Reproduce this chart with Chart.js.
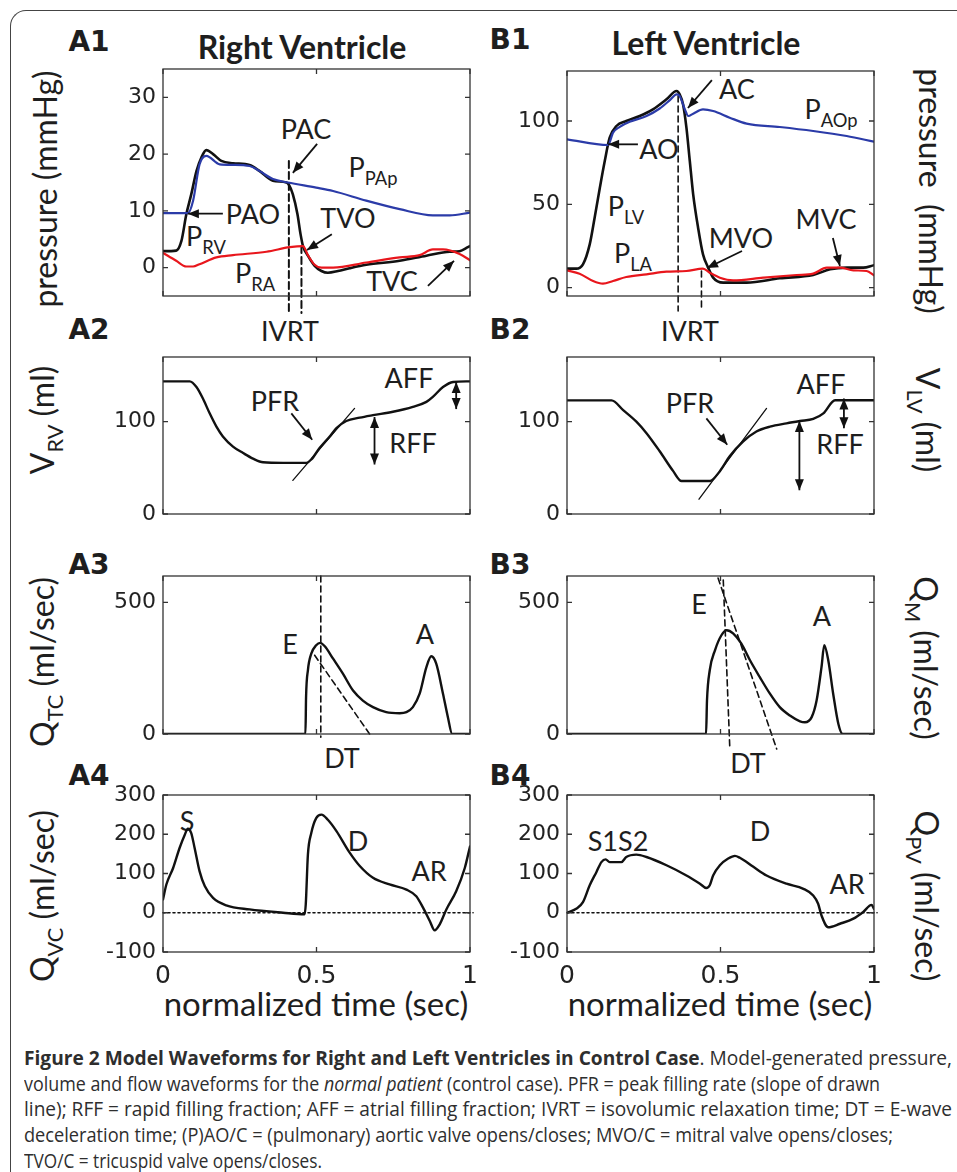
<!DOCTYPE html>
<html lang="en">
<head>
<meta charset="UTF-8">
<title>Figure 2 Model Waveforms</title>
<style>
  body { margin: 0; background: #fff; }
  #page { position: relative; width: 957px; height: 1172px; overflow: hidden; font-family: Lato, "Open Sans", sans-serif; color: #1e1e1e; }
  #frame { position: absolute; left: 10px; top: 10px; width: 1000px; height: 1250px; border-left: 1.5px solid #444; border-top: 1.5px solid #444; border-top-left-radius: 16px; }
  canvas { position: absolute; }
  .t { position: absolute; transform: translate(-50%, -50%); white-space: nowrap; line-height: 1; }
  .lbl { font-size: 27px; }
  .pn { font-family: "DejaVu Sans", sans-serif; font-weight: bold; font-size: 28px; }
  .ttl { font-weight: bold; font-size: 32px; }
  .ax { font-size: 32px; }
  .xl { font-size: 33px; }
  .sub { font-size: 0.68em; position: relative; top: 0.42em; }
  .rotL { transform: translate(-50%, -50%) rotate(-90deg); }
  .rotR { transform: translate(-50%, -50%) rotate(90deg); }
  .cap { position: absolute; left: 24px; height: 24px; line-height: 24px; font-family: "Open Sans", sans-serif; font-size: 19.5px; white-space: nowrap; transform-origin: 0 50%; color: #2e2e2e; }
</style>
</head>
<body>
<div id="page">
  <div id="frame"></div>

  <!-- panel letters and titles -->
  <div class="t pn" style="left:89px;top:42px">A1</div>
  <div class="t pn" style="left:510px;top:40px">B1</div>
  <div class="t pn" style="left:89px;top:330px">A2</div>
  <div class="t pn" style="left:510px;top:330px">B2</div>
  <div class="t pn" style="left:89px;top:565px">A3</div>
  <div class="t pn" style="left:510px;top:565px">B3</div>
  <div class="t pn" style="left:89px;top:776px">A4</div>
  <div class="t pn" style="left:510px;top:776px">B4</div>
  <div class="t ttl" style="left:302px;top:47px">Right Ventricle</div>
  <div class="t ttl" style="left:706px;top:43px">Left Ventricle</div>

  <!-- axis titles -->
  <div class="t ax rotL" style="left:45px;top:189px">pressure (mmHg)</div>
  <div class="t ax rotL" style="left:42px;top:420px">V<span class="sub">RV</span> (ml)</div>
  <div class="t ax rotL" style="left:42px;top:662px">Q<span class="sub">TC</span> (ml/sec)</div>
  <div class="t ax rotL" style="left:42px;top:896px">Q<span class="sub">VC</span> (ml/sec)</div>
  <div class="t ax rotR" style="left:931px;top:191px">pressure &nbsp;(mmHg)</div>
  <div class="t ax rotR" style="left:928px;top:420px">V<span class="sub">LV</span> (ml)</div>
  <div class="t ax rotR" style="left:926px;top:658px">Q<span class="sub">M</span> (ml/sec)</div>
  <div class="t ax rotR" style="left:927px;top:896px">Q<span class="sub">PV</span> (ml/sec)</div>
  <div class="t xl" style="left:316px;top:1003px">normalized time (sec)</div>
  <div class="t xl" style="left:720px;top:1003px">normalized time (sec)</div>

  <!-- annotations A1 / B1 -->
  <div class="t lbl" style="left:306px;top:128px">PAC</div>
  <div class="t lbl" style="left:373px;top:166px">P<span class="sub">PAp</span></div>
  <div class="t lbl" style="left:253px;top:213px">PAO</div>
  <div class="t lbl" style="left:206px;top:235px">P<span class="sub">RV</span></div>
  <div class="t lbl" style="left:348px;top:217px">TVO</div>
  <div class="t lbl" style="left:255px;top:272px">P<span class="sub">RA</span></div>
  <div class="t lbl" style="left:392px;top:280px">TVC</div>
  <div class="t lbl" style="left:290px;top:330px">IVRT</div>
  <div class="t lbl" style="left:737px;top:88px">AC</div>
  <div class="t lbl" style="left:831px;top:108px">P<span class="sub">AOp</span></div>
  <div class="t lbl" style="left:659px;top:148px">AO</div>
  <div class="t lbl" style="left:626px;top:205px">P<span class="sub">LV</span></div>
  <div class="t lbl" style="left:633px;top:252px">P<span class="sub">LA</span></div>
  <div class="t lbl" style="left:741px;top:237px">MVO</div>
  <div class="t lbl" style="left:826px;top:218px">MVC</div>
  <div class="t lbl" style="left:690px;top:330px">IVRT</div>
  <!-- A2 / B2 -->
  <div class="t lbl" style="left:275px;top:400px">PFR</div>
  <div class="t lbl" style="left:409px;top:377px">AFF</div>
  <div class="t lbl" style="left:413px;top:442px">RFF</div>
  <div class="t lbl" style="left:690px;top:402px">PFR</div>
  <div class="t lbl" style="left:821px;top:383px">AFF</div>
  <div class="t lbl" style="left:840px;top:443px">RFF</div>
  <!-- A3 / B3 -->
  <div class="t lbl" style="left:290px;top:643px">E</div>
  <div class="t lbl" style="left:425px;top:633px">A</div>
  <div class="t lbl" style="left:342px;top:757px">DT</div>
  <div class="t lbl" style="left:699px;top:603px">E</div>
  <div class="t lbl" style="left:822px;top:615px">A</div>
  <div class="t lbl" style="left:748px;top:762px">DT</div>
  <!-- A4 / B4 -->
  <div class="t lbl" style="left:187px;top:820px">S</div>
  <div class="t lbl" style="left:358px;top:840px">D</div>
  <div class="t lbl" style="left:429px;top:870px">AR</div>
  <div class="t lbl" style="left:618px;top:840px">S1S2</div>
  <div class="t lbl" style="left:760px;top:830px">D</div>
  <div class="t lbl" style="left:847px;top:883px">AR</div>

  <!-- caption -->
  <div class="cap" data-w="928" style="top:1046px"><b>Figure 2 Model Waveforms for Right and Left Ventricles in Control Case</b>. Model-generated pressure,</div>
  <div class="cap" data-w="856" style="top:1072px">volume and flow waveforms for the <i>normal patient</i> (control case). PFR = peak filling rate (slope of drawn</div>
  <div class="cap" data-w="928" style="top:1097px">line); RFF = rapid filling fraction; AFF = atrial filling fraction; IVRT = isovolumic relaxation time; DT = E-wave</div>
  <div class="cap" data-w="869" style="top:1123px">deceleration time; (P)AO/C = (pulmonary) aortic valve opens/closes; MVO/C = mitral valve opens/closes;</div>
  <div class="cap" data-w="298" style="top:1149px">TVO/C = tricuspid valve opens/closes.</div>
</div>

<script src="https://cdn.jsdelivr.net/npm/chart.js"></script>
<script>
// ---- data (normalized time 0..1) ----
var X_TICKS = [0, 0.5, 1];

// A1 right ventricle pressures (mmHg)
var A1_TICKS = [0, 10, 20, 30];
var ppapX = [0, 0.081, 0.098, 0.119, 0.141, 0.185, 0.228, 0.282, 0.315, 0.358, 0.407, 0.499, 0.554, 0.662, 0.771, 0.879, 0.934, 1.0];
var ppapY = [9.6, 9.6, 11.8, 18.2, 19.7, 18.2, 18.1, 17.9, 17.0, 15.6, 15.0, 14.1, 13.5, 11.8, 10.3, 9.2, 9.2, 9.7];
var prvX = [0, 0.043, 0.060, 0.076, 0.092, 0.109, 0.125, 0.141, 0.163, 0.190, 0.228, 0.282, 0.315, 0.358, 0.402, 0.410, 0.423, 0.438, 0.448, 0.456, 0.472, 0.494, 0.516, 0.537, 0.570, 0.608, 0.662, 0.771, 0.858, 0.934, 0.966, 0.993, 1.0];
var prvY = [2.9, 3.0, 4.7, 9.4, 12.9, 17.0, 19.4, 20.7, 20.0, 18.8, 18.4, 18.1, 17.0, 15.3, 15.0, 14.6, 12.9, 9.4, 5.9, 3.8, 2.1, 0.3, -0.6, -0.9, -0.6, -0.1, 0.5, 1.2, 2.1, 2.8, 2.9, 3.6, 3.8];
var praX = [0, 0.043, 0.076, 0.098, 0.119, 0.174, 0.228, 0.337, 0.413, 0.456, 0.472, 0.494, 0.516, 0.554, 0.662, 0.771, 0.836, 0.879, 0.912, 0.966, 1.0];
var praY = [2.6, 1.2, 0.2, 0.2, 0.6, 1.8, 2.2, 2.8, 3.6, 3.8, 2.2, 0.5, 0.0, 0.0, 0.9, 1.8, 2.2, 3.2, 3.2, 2.4, 1.3];

// B1 left ventricle pressures (mmHg)
var B1_TICKS = [0, 50, 100];
var paopX = [0, 0.134, 0.150, 0.172, 0.204, 0.259, 0.302, 0.335, 0.357, 0.367, 0.384, 0.395, 0.411, 0.443, 0.476, 0.530, 0.585, 0.693, 0.802, 0.911, 1.0];
var paopY = [89, 85.6, 93, 96.5, 99.5, 103, 107.5, 112.5, 116, 115, 107, 103, 104.4, 107, 106, 102, 98.4, 96.4, 94, 91, 87.6];
var plvX = [0, 0.030, 0.052, 0.074, 0.090, 0.107, 0.123, 0.139, 0.161, 0.193, 0.237, 0.280, 0.324, 0.357, 0.367, 0.378, 0.389, 0.400, 0.411, 0.427, 0.443, 0.460, 0.476, 0.509, 0.585, 0.693, 0.802, 0.857, 0.911, 0.965, 1.0];
var plvY = [11.4, 11.4, 14, 26, 42, 60, 76, 90, 97, 100, 103, 107, 113, 118, 116, 110, 96, 76, 56, 36, 20, 12, 6, 3, 3, 5.6, 7.6, 11, 12, 12, 13.5];
var plaX = [0, 0.041, 0.085, 0.117, 0.150, 0.193, 0.259, 0.324, 0.389, 0.443, 0.465, 0.498, 0.541, 0.639, 0.748, 0.802, 0.846, 0.889, 0.933, 0.976, 1.0];
var plaY = [10.4, 8.4, 4, 2.4, 4, 6.4, 8, 9.6, 10, 11.4, 9, 6, 4.4, 6, 7.6, 8.4, 12, 12, 10.4, 10, 7.4];

// A2 / B2 ventricular volumes (ml)
var V_TICKS = [0, 100];
var vrvX = [0, 0.087, 0.109, 0.130, 0.152, 0.174, 0.195, 0.228, 0.261, 0.293, 0.326, 0.391, 0.467, 0.483, 0.510, 0.543, 0.565, 0.597, 0.641, 0.684, 0.749, 0.814, 0.858, 0.879, 0.912, 0.945, 0.988, 1.0];
var vrvY = [143.6, 143.6, 137.5, 125, 109, 94.6, 84, 73, 66, 60, 56, 55.4, 55.4, 59, 71.4, 84, 93, 100.7, 104.3, 107, 110.7, 116, 121.4, 126.8, 137.5, 143, 143.6, 143.6];
var vlvX = [0, 0.145, 0.183, 0.226, 0.259, 0.302, 0.346, 0.373, 0.465, 0.498, 0.530, 0.574, 0.617, 0.661, 0.715, 0.759, 0.802, 0.835, 0.873, 1.0];
var vlvY = [123, 123, 112.5, 100, 87.5, 67.9, 46.4, 35.7, 35.7, 46.4, 62.5, 78.6, 89.3, 94.6, 98.2, 100.7, 102.9, 108.9, 123.2, 123.2];

// A3 / B3 valve flows (ml/sec)
var Q_TICKS = [0, 500];
var qtcX = [0, 0.464, 0.466, 0.472, 0.483, 0.499, 0.512, 0.527, 0.554, 0.586, 0.619, 0.651, 0.684, 0.727, 0.771, 0.793, 0.814, 0.836, 0.858, 0.874, 0.890, 0.912, 0.928, 0.942, 1.0];
var qtcY = [0, 0, 140, 242, 305, 337, 346, 333, 286, 229, 165, 127, 102, 83, 79, 83, 102, 153, 254, 295, 267, 153, 64, 0, 0];
var qmX = [0, 0.453, 0.456, 0.465, 0.482, 0.503, 0.520, 0.541, 0.568, 0.596, 0.628, 0.661, 0.693, 0.726, 0.759, 0.775, 0.797, 0.813, 0.829, 0.838, 0.851, 0.867, 0.884, 0.898, 1.0];
var qmY = [0, 0, 127, 242, 318, 375, 394, 382, 343, 280, 216, 153, 102, 70, 48, 44.5, 64, 127, 254, 337, 280, 153, 38, 0, 0];

// A4 / B4 venous flows (ml/sec)
var VEN_TICKS = [-100, 0, 100, 200, 300];
var qvcX = [0, 0.011, 0.033, 0.054, 0.071, 0.081, 0.092, 0.103, 0.119, 0.136, 0.163, 0.206, 0.282, 0.391, 0.461, 0.465, 0.472, 0.483, 0.499, 0.516, 0.537, 0.565, 0.608, 0.641, 0.684, 0.738, 0.793, 0.825, 0.847, 0.869, 0.885, 0.901, 0.923, 0.955, 0.983, 1.0];
var qvcY = [34, 72, 114, 165, 199, 214, 203, 165, 106, 68, 38, 19, 8.5, 0, -4, 21, 148, 203, 241, 250, 237, 208, 153, 119, 89, 72, 59, 42, 13, -21, -45, -30, 8.5, 55, 114, 169];
var qpvX = [0, 0.030, 0.052, 0.074, 0.096, 0.112, 0.126, 0.139, 0.177, 0.193, 0.226, 0.259, 0.324, 0.389, 0.433, 0.454, 0.465, 0.476, 0.498, 0.525, 0.547, 0.563, 0.607, 0.650, 0.715, 0.770, 0.802, 0.818, 0.829, 0.851, 0.889, 0.933, 0.965, 0.992, 1.0];
var qpvY = [0, 10, 27, 70, 104, 129, 136, 129, 129, 142, 148, 142, 121, 95, 74, 63, 70, 95, 121, 138, 145, 140, 117, 95, 74, 61, 44, 23, -7, -37, -28, -15, 2, 20, 10];

// ---- drawing ----
var BLACK = '#111', BLUE = '#2b3ba8', RED = '#e8161c';
var TICK_FONT = { family: 'DejaVu Sans, sans-serif', size: 22 };
var XTICK_FONT = { family: 'DejaVu Sans, sans-serif', size: 25 };

function pts(xs, ys) {
    return xs.map(function(v, i) { return { x: v, y: ys[i] }; });
}
function curve(xs, ys, color, w) {
    return { data: pts(xs, ys), borderColor: color, borderWidth: w || 2.4, cubicInterpolationMode: 'monotone' };
}
function seg(p, dash, w) {
    return { data: p, borderColor: BLACK, borderWidth: w || 1.6, borderDash: dash || [], clip: false };
}

function head(ctx, x1, y1, x2, y2) {
    var a = Math.atan2(y2 - y1, x2 - x1), L = 11, H = 4.5;
    ctx.beginPath();
    ctx.moveTo(x2, y2);
    ctx.lineTo(x2 - L * Math.cos(a) + H * Math.sin(a), y2 - L * Math.sin(a) - H * Math.cos(a));
    ctx.lineTo(x2 - L * Math.cos(a) - H * Math.sin(a), y2 - L * Math.sin(a) + H * Math.cos(a));
    ctx.closePath();
    ctx.fill();
}

// box, inward ticks and arrows
var marksPlugin = {
    id: 'marks',
    afterDraw: function(chart, args, o) {
        var ctx = chart.ctx, a = chart.chartArea, x = chart.scales.x, y = chart.scales.y;
        ctx.save();
        ctx.strokeStyle = '#333';
        ctx.lineWidth = 1.3;
        ctx.strokeRect(a.left, a.top, a.right - a.left, a.bottom - a.top);
        ctx.beginPath();
        X_TICKS.forEach(function(v) {
            var px = x.getPixelForValue(v);
            ctx.moveTo(px, a.top); ctx.lineTo(px, a.top + 5);
            ctx.moveTo(px, a.bottom); ctx.lineTo(px, a.bottom - 5);
        });
        (o.yTicks || []).forEach(function(v) {
            var py = y.getPixelForValue(v);
            ctx.moveTo(a.left, py); ctx.lineTo(a.left + 5, py);
            ctx.moveTo(a.right, py); ctx.lineTo(a.right - 5, py);
        });
        ctx.stroke();

        ctx.strokeStyle = BLACK;
        ctx.fillStyle = BLACK;
        ctx.lineWidth = 1.8;
        (o.arrows || []).forEach(function(r) {
            var x1 = x.getPixelForValue(r[0]), y1 = y.getPixelForValue(r[1]);
            var x2 = x.getPixelForValue(r[2]), y2 = y.getPixelForValue(r[3]);
            ctx.beginPath(); ctx.moveTo(x1, y1); ctx.lineTo(x2, y2); ctx.stroke();
            head(ctx, x1, y1, x2, y2);
        });
        (o.dbl || []).forEach(function(r) {
            var px = x.getPixelForValue(r[0]), y1 = y.getPixelForValue(r[1]), y2 = y.getPixelForValue(r[2]);
            ctx.beginPath(); ctx.moveTo(px, y1); ctx.lineTo(px, y2); ctx.stroke();
            head(ctx, px, y2, px, y1);
            head(ctx, px, y1, px, y2);
        });
        ctx.restore();
    }
};

function makeChart(p) {
    var L = p.box[0], T = p.box[1], R = p.box[2], B = p.box[3];
    var c = document.createElement('canvas');
    c.width = R - L + 84;
    c.height = B - T + 10 + p.xh;
    c.style.left = (L - 70) + 'px';
    c.style.top = (T - 10) + 'px';
    document.getElementById('page').appendChild(c);

    new Chart(c.getContext('2d'), {
        type: 'line',
        data: { datasets: p.sets },
        options: {
            responsive: false,
            animation: false,
            layout: { padding: { top: 10, right: 14, left: 0, bottom: 0 } },
            elements: { point: { radius: 0 }, line: { borderJoinStyle: 'round', borderCapStyle: 'round' } },
            plugins: { legend: { display: false }, tooltip: { enabled: false }, marks: p.marks },
            scales: {
                x: {
                    type: 'linear', min: 0, max: 1,
                    grid: { display: false, drawTicks: false }, border: { display: false },
                    ticks: { display: !!p.xLabels, font: XTICK_FONT, color: '#222', padding: 9, maxRotation: 0, autoSkip: false,
                             callback: function(v) { return String(v); } },
                    afterBuildTicks: function(s) { s.ticks = X_TICKS.map(function(v) { return { value: v }; }); },
                    afterFit: function(s) { s.height = p.xh; s.paddingLeft = 0; s.paddingRight = 0; }
                },
                y: {
                    type: 'linear', min: p.yMin, max: p.yMax,
                    grid: { display: false, drawTicks: false }, border: { display: false },
                    ticks: { font: TICK_FONT, color: '#222', padding: 7 },
                    afterBuildTicks: function(s) { s.ticks = p.marks.yTicks.map(function(v) { return { value: v }; }); },
                    afterFit: function(s) { s.width = 70; s.paddingTop = 0; s.paddingBottom = 0; }
                }
            }
        },
        plugins: [marksPlugin]
    });
}

var panels = [
    { box: [163, 69, 470, 296], yMin: -5, yMax: 35, xh: 20,
      sets: [curve(ppapX, ppapY, BLUE, 2.2), curve(praX, praY, RED, 2.2), curve(prvX, prvY, BLACK, 2.6),
             seg([{ x: 0.410, y: 18.8 }, { x: 0.410, y: -8 }], [7, 4], 2), seg([{ x: 0.451, y: 3.8 }, { x: 0.451, y: -8 }], [7, 4], 2)],
      marks: { yTicks: A1_TICKS, arrows: [[0.502, 21.8, 0.423, 16.7], [0.195, 9.5, 0.081, 9.5], [0.550, 5.9, 0.469, 3.1], [0.863, -3.2, 0.948, 1.2]] } },
    { box: [567, 71, 874, 296], yMin: -5, yMax: 130, xh: 20,
      sets: [curve(paopX, paopY, BLUE, 2.2), curve(plaX, plaY, RED, 2.2), curve(plvX, plvY, BLACK, 2.6),
             seg([{ x: 0.362, y: 115 }, { x: 0.362, y: -14 }], [6, 4], 1.6), seg([{ x: 0.438, y: 10 }, { x: 0.438, y: -14 }], [6, 4], 1.6)],
      marks: { yTicks: B1_TICKS, arrows: [[0.472, 124.5, 0.394, 107.8], [0.231, 86, 0.134, 86], [0.570, 22, 0.456, 11.8], [0.866, 29.8, 0.889, 13]] } },
    { box: [163, 357, 470, 514], yMin: 0, yMax: 170, xh: 20,
      sets: [curve(vrvX, vrvY, BLACK, 2.4), seg([{ x: 0.423, y: 36.4 }, { x: 0.624, y: 114.3 }], [], 1.3)],
      marks: { yTicks: V_TICKS, arrows: [[0.418, 108.9, 0.486, 80.4]], dbl: [[0.689, 105, 53.6], [0.955, 143, 113.6]] } },
    { box: [567, 357, 874, 514], yMin: 0, yMax: 170, xh: 20,
      sets: [curve(vlvX, vlvY, BLACK, 2.4), seg([{ x: 0.43, y: 16 }, { x: 0.65, y: 114.3 }], [], 1.3)],
      marks: { yTicks: V_TICKS, arrows: [[0.454, 103.6, 0.522, 75]], dbl: [[0.757, 100.7, 25.7], [0.902, 125, 92.9]] } },
    { box: [163, 576, 470, 734], yMin: 0, yMax: 600, xh: 20,
      sets: [curve(qtcX, qtcY, BLACK, 2.4), seg([{ x: 0.514, y: 600 }, { x: 0.514, y: -12 }], [6, 4], 1.6), seg([{ x: 0.494, y: 299 }, { x: 0.673, y: 0 }], [6, 4], 1.6)],
      marks: { yTicks: Q_TICKS } },
    { box: [567, 576, 874, 734], yMin: 0, yMax: 600, xh: 20,
      sets: [curve(qmX, qmY, BLACK, 2.4), seg([{ x: 0.509, y: 585 }, { x: 0.530, y: -45 }], [6, 4], 1.6), seg([{ x: 0.492, y: 592 }, { x: 0.683, y: -57 }], [6, 4], 1.6)],
      marks: { yTicks: Q_TICKS } },
    { box: [163, 795, 470, 952], yMin: -100, yMax: 300, xh: 40, xLabels: true,
      sets: [curve(qvcX, qvcY, BLACK, 2.4), seg([{ x: 0, y: 0 }, { x: 1.01, y: 0 }], [2, 3], 1.6)],
      marks: { yTicks: VEN_TICKS } },
    { box: [567, 795, 874, 952], yMin: -100, yMax: 300, xh: 40, xLabels: true,
      sets: [curve(qpvX, qpvY, BLACK, 2.4), seg([{ x: 0, y: 0 }, { x: 1.01, y: 0 }], [2, 3], 1.6)],
      marks: { yTicks: VEN_TICKS } }
];

panels.forEach(makeChart);

// squeeze caption lines to the widths of the printed caption
function fitCaption() {
    document.querySelectorAll('.cap').forEach(function(el) {
        el.style.transform = 'none';
        var w = el.getBoundingClientRect().width;
        el.style.transform = 'scaleX(' + (parseFloat(el.dataset.w) / w) + ')';
    });
}
fitCaption();
if (document.fonts && document.fonts.ready) document.fonts.ready.then(fitCaption);
</script>
</body>
</html>
